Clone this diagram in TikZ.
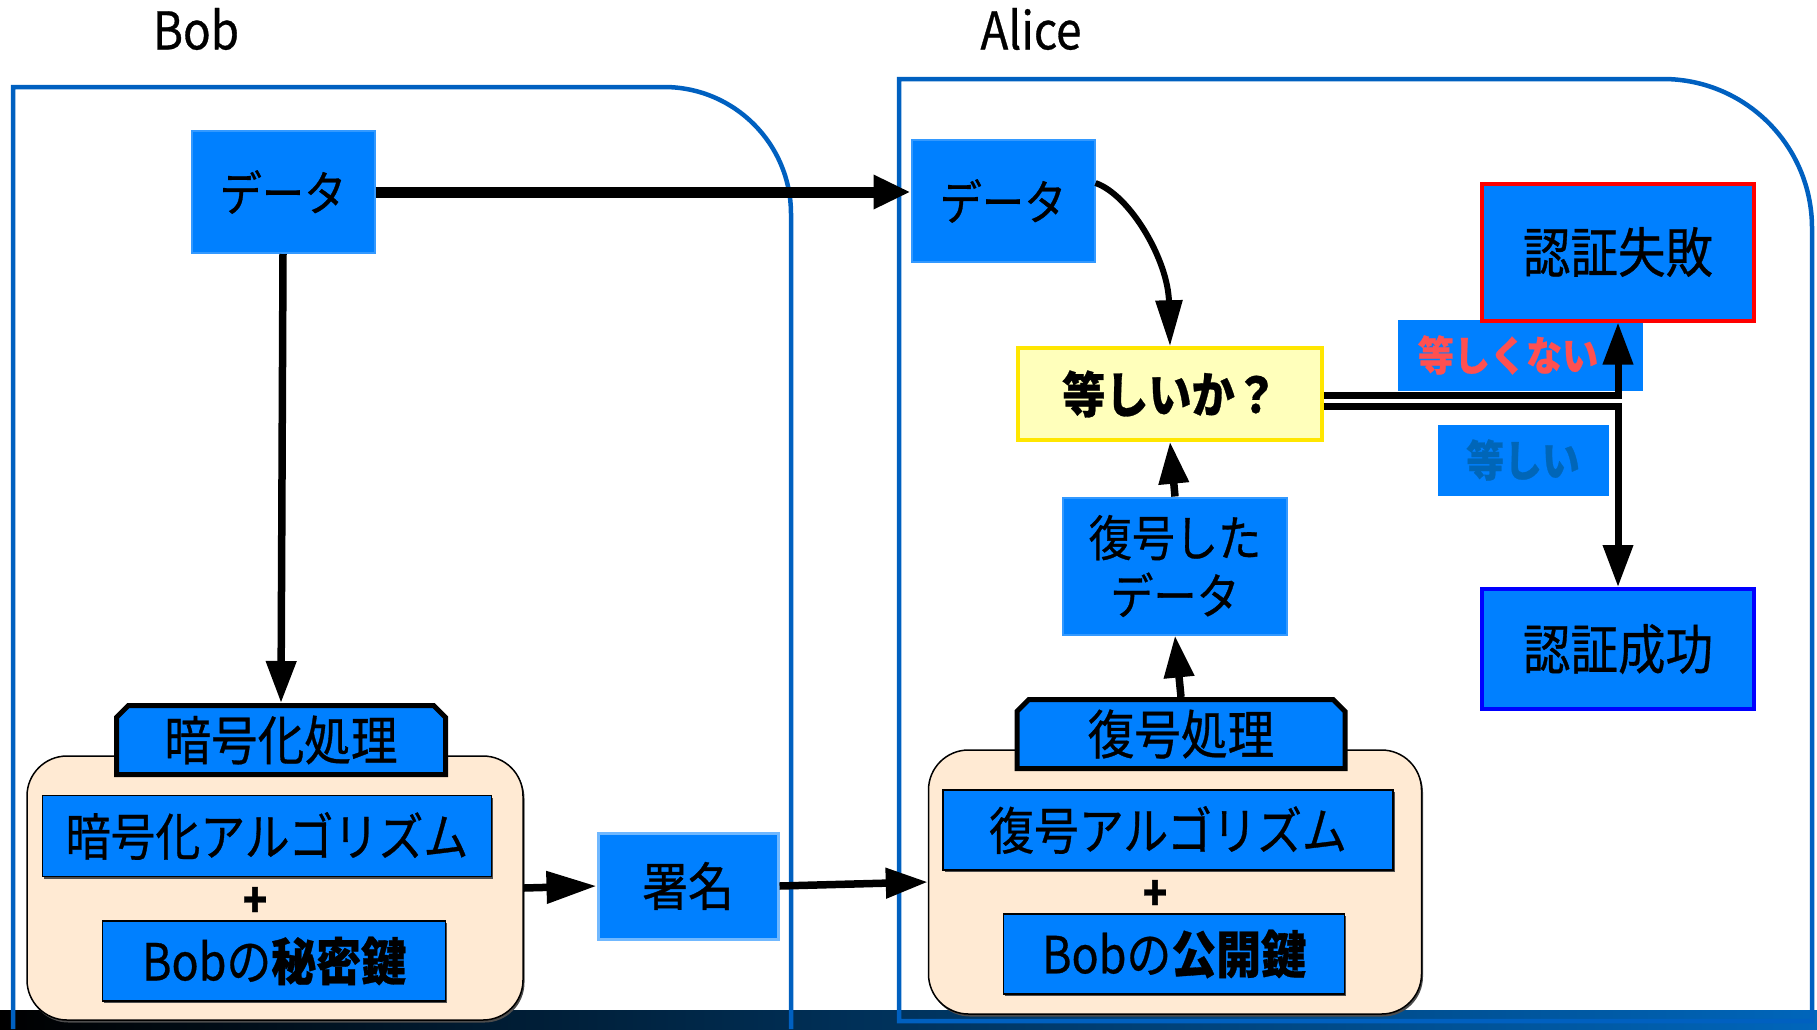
\documentclass[tikz,border=0pt]{standalone}
\usepackage{fontspec}
\newfontfamily\jpfont{Noto Sans CJK JP}[FakeStretch=0.88, FakeBold=0.6]
\usetikzlibrary{arrows.meta,shapes.misc,shadows}
\definecolor{boxblue}{HTML}{0080FF}
\definecolor{edgeblue}{HTML}{3399FF}
\definecolor{framblue}{HTML}{0060C0}
\definecolor{barblue}{HTML}{0066BB}
\definecolor{barmid}{HTML}{00447E}
\definecolor{peach}{HTML}{FFEAD3}
\definecolor{paleyel}{HTML}{FFFFBB}
\definecolor{yelline}{HTML}{FFE600}
\definecolor{ngred}{HTML}{FF5050}
\definecolor{okblue}{HTML}{0066B8}
\newcommand\jpsize[1]{\fontsize{#1}{58}\selectfont}

\begin{document}
\begin{tikzpicture}[x=1pt,y=-1pt]
    \tikzset{every node/.style={font=\jpfont, inner sep=0pt},
        bluebox/.style={draw=edgeblue, line width=2pt, fill=boxblue, align=center},
        innerbox/.style={draw=black, line width=1.5pt, fill=boxblue,
            drop shadow={shadow xshift=1.5pt, shadow yshift=-2pt, fill=black!70, opacity=1}},
        procbox/.style={draw=black, line width=1.5pt, fill=peach, rounded corners=40pt,
            drop shadow={shadow xshift=1.5pt, shadow yshift=-2.5pt, fill=black!70, opacity=1}},
        proctab/.style={chamfered rectangle, chamfered rectangle corners={north west,north east},
            chamfered rectangle xsep=9pt, draw=black, line width=5pt, fill=boxblue},
        lblbox/.style={fill=boxblue},
        frame/.style={draw=framblue, line width=4.5pt},
        arr/.style={line width=7.5pt, -{Triangle[length=42pt,width=29pt]}}}
    \useasboundingbox (0,0) rectangle (1817,1029);

    % bottom strip
    \shade[left color=black, middle color=barmid, right color=barblue] (0,1010) rectangle (1817,1029);

    % Bob and Alice areas
    \node[font={\jpfont\jpsize{52}}] (boblbl) at (196,29) {Bob};
    \node[font={\jpfont\jpsize{52}}] (alilbl) at (1031,29) {Alice};
    \draw[frame] (13,1029) -- (13,87) -- (664,87) arc[start angle=90, end angle=0, radius=127pt] -- (791,1029);
    \draw[frame] (899,1021) -- (899,79) -- (1663,79) arc[start angle=90, end angle=0, radius=149pt] -- (1812,1021) -- cycle;

    % Bob side
    \node[bluebox, minimum width=183pt, minimum height=122pt] (bobdata) at (283,192) {\jpsize{48}データ};
    \node[procbox, minimum width=496pt, minimum height=264pt] (encbox) at (275,888) {};
    \node[proctab, minimum width=329pt, minimum height=69pt] (enctab) at (281,740) {\jpsize{53}暗号化処理};
    \node[innerbox, minimum width=449pt, minimum height=81pt] (encalg) at (267,836) {\jpsize{51}暗号化アルゴリズム};
    \node (plusa) at (255,902) {\jpsize{46}\textbf{+}};
    \node[innerbox, minimum width=343pt, minimum height=80pt] (bobpriv) at (274,961) {\jpsize{51}Bobの\textbf{秘密鍵}};
    \node[bluebox, draw=edgeblue!70, line width=3pt, minimum width=180pt, minimum height=106pt] (sig) at (688,886) {\jpsize{52}署名};

    % Alice side
    \node[bluebox, minimum width=183pt, minimum height=122pt] (alidata) at (1003,201) {\jpsize{48}データ};
    \node[draw=yelline, line width=3.5pt, fill=paleyel, minimum width=304pt, minimum height=92pt] (eq) at (1170,394) {\jpsize{49}\textbf{等しいか？}};
    \node[bluebox, font={\jpfont\jpsize{49}}, minimum width=224pt, minimum height=137pt] (decdata) at (1175,566) {復号した\\データ};
    \node[procbox, minimum width=493pt, minimum height=264pt] (decbox) at (1175,882) {};
    \node[proctab, minimum width=328pt, minimum height=69pt] (dectab) at (1181,734) {\jpsize{53}復号処理};
    \node[innerbox, minimum width=450pt, minimum height=80pt] (decalg) at (1168,830) {\jpsize{51}復号アルゴリズム};
    \node (plusb) at (1155,895) {\jpsize{46}\textbf{+}};
    \node[innerbox, minimum width=341pt, minimum height=80pt] (bobpub) at (1174,954) {\jpsize{51}Bobの\textbf{公開鍵}};
    \node[lblbox, minimum width=245pt, minimum height=71pt] (nglbl) at (1520,355) {\jpsize{41}\textbf{\textcolor{ngred}{等しくない}}\hspace*{24pt}};
    \node[lblbox, minimum width=171pt, minimum height=71pt] (oklbl) at (1523,460) {\jpsize{43}\textbf{\textcolor{okblue}{等しい}}};
    \node[draw=red, line width=4pt, fill=boxblue, minimum width=272pt, minimum height=137pt] (fail) at (1618,252) {\jpsize{54}認証失敗};
    \node[draw=blue, line width=4pt, fill=boxblue, minimum width=272pt, minimum height=120pt] (ok) at (1618,649) {\jpsize{54}認証成功};

    % connectors
    \draw[arr, line width=11pt, -{Triangle[length=37pt,width=32pt]}] (bobdata.east) -- (bobdata.east -| alidata.west);
    \draw[arr] (bobdata.south) -- (enctab.north);
    \draw[arr, -{Triangle[length=50pt,width=31pt]}] (encbox.east) -- (sig.west);
    \draw[arr] (sig.east) -- (decbox.west);
    \draw[arr] (dectab.north) -- (decdata.south);
    \draw[arr] (decdata.north) -- (eq.south);
    \draw[arr, line width=6pt, -{Triangle[length=46pt,width=26pt]}] ([yshift=18pt]alidata.east) .. controls (1130,195) and (1168,260) .. (eq.north);
    \draw[arr, line width=7pt] ([yshift=-1pt]eq.east) -| (fail.south);
    \draw[arr, line width=7pt] ([yshift=-12pt]eq.east) -| (ok.north);
\end{tikzpicture}
\end{document}
